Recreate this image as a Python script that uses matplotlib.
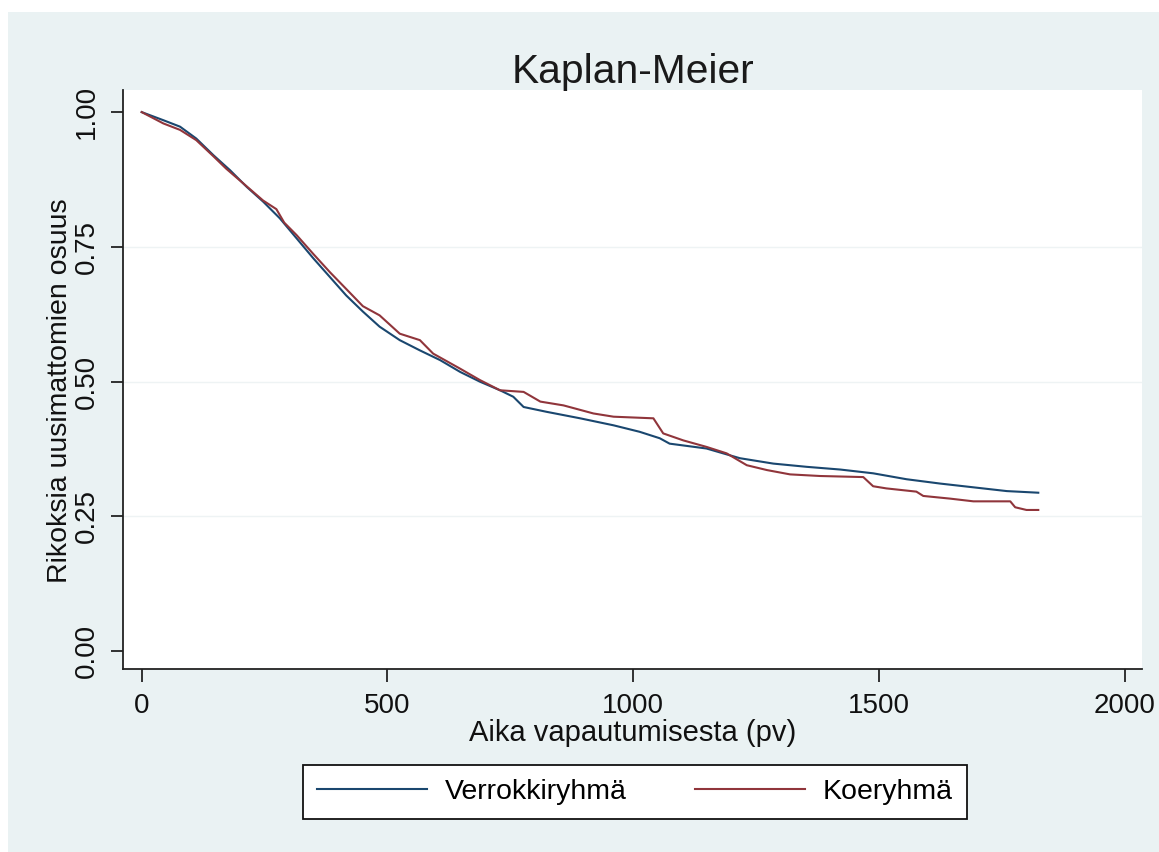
import matplotlib.pyplot as plt
from matplotlib.patches import Rectangle

# ---- data ----
verrokki_days = [0, 44, 78, 111, 146, 180, 214, 247, 281, 315, 349, 383, 416, 450, 484,
                 525, 566, 607, 648, 688, 729, 756, 777, 824, 892, 960, 1013, 1054, 1074,
                 1149, 1217, 1285, 1353, 1421, 1488, 1556, 1624, 1692, 1760, 1824]
verrokki_surv = [1.000, 0.985, 0.973, 0.951, 0.920, 0.892, 0.861, 0.834, 0.803, 0.766, 0.729,
                 0.694, 0.660, 0.630, 0.602, 0.577, 0.558, 0.540, 0.518, 0.500, 0.484, 0.472,
                 0.453, 0.444, 0.432, 0.419, 0.407, 0.395, 0.385, 0.376, 0.358, 0.348, 0.342,
                 0.337, 0.330, 0.319, 0.311, 0.304, 0.297, 0.294]

koe_days = [0, 44, 78, 111, 146, 172, 214, 247, 274, 290, 315, 349, 383, 416, 450, 484,
            525, 566, 593, 648, 688, 729, 777, 811, 858, 919, 960, 1041, 1061, 1102, 1149,
            1190, 1231, 1272, 1319, 1380, 1468, 1488, 1515, 1576, 1590, 1645, 1692, 1767,
            1777, 1800, 1824]
koe_surv = [1.000, 0.979, 0.967, 0.948, 0.918, 0.895, 0.862, 0.836, 0.820, 0.795, 0.772,
            0.737, 0.703, 0.672, 0.640, 0.623, 0.589, 0.577, 0.552, 0.524, 0.503, 0.484,
            0.481, 0.463, 0.456, 0.441, 0.435, 0.432, 0.404, 0.391, 0.379, 0.367, 0.345,
            0.336, 0.328, 0.325, 0.323, 0.306, 0.302, 0.296, 0.288, 0.283, 0.278, 0.278,
            0.267, 0.262, 0.262]

x_ticks = [0, 500, 1000, 1500, 2000]
y_ticks = [0.00, 0.25, 0.50, 0.75, 1.00]
y_ticklabels = ['0.00', '0.25', '0.50', '0.75', '1.00']

navy = '#1a476f'
maroon = '#90353b'
bg = '#eaf2f3'

plt.rcParams['font.family'] = ['Liberation Sans', 'DejaVu Sans']

fig = plt.figure(figsize=(11.59, 8.52), dpi=100, facecolor='white')
# Stata style graph region (white strip left and top like the screenshot)
fig.add_artist(Rectangle((8 / 1159, 0), 1, 1 - 12 / 852, transform=fig.transFigure,
                         facecolor=bg, edgecolor='none', zorder=0))

ax = fig.add_axes([123 / 1159, 1 - 669 / 852, (1142 - 123) / 1159, (669 - 90) / 852])
ax.set_facecolor('white')

for y in [0.25, 0.50, 0.75]:
    ax.axhline(y, color='#eef3f4', linewidth=1.0, zorder=1)

ax.plot(verrokki_days, verrokki_surv, color=navy, linewidth=1.5,
        label='Verrokkiryhmä', zorder=3)
ax.plot(koe_days, koe_surv, color=maroon, linewidth=1.5,
        label='Koeryhmä', zorder=3)

ax.set_xlim(-38, 2035)
ax.set_ylim(-0.033, 1.041)
ax.set_xticks(x_ticks)
ax.set_yticks(y_ticks)
ax.set_yticklabels(y_ticklabels)

for side in ['top', 'right']:
    ax.spines[side].set_visible(False)
for side in ['left', 'bottom']:
    ax.spines[side].set_color('#222222')
    ax.spines[side].set_linewidth(1.3)

ax.tick_params(axis='both', direction='out', length=9, width=1.3, color='#222222',
               labelsize=20, pad=8, labelcolor='#111111')
ax.tick_params(axis='y', labelrotation=90)
for lab in ax.get_yticklabels():
    lab.set_verticalalignment('center')

fig.text(633 / 1159, 1 - 72 / 852, 'Kaplan-Meier', ha='center', va='center', fontsize=29.3,
         color='#1a1a1a')
fig.text(633 / 1159, 1 - 733 / 852, 'Aika vapautumisesta (pv)', ha='center', va='center',
         fontsize=21, color='#111111')
fig.text(60 / 1159, 1 - 391 / 852, 'Rikoksia uusimattomien osuus', ha='center', va='center',
         rotation=90, fontsize=20.5, color='#111111')

leg = fig.legend(loc='center', bbox_to_anchor=(635 / 1159, 1 - 792 / 852), ncol=2,
                 fontsize=20.5, frameon=True, fancybox=False, handlelength=3.85,
                 handletextpad=0.63, columnspacing=2.4, borderpad=0.5)
leg.get_frame().set_edgecolor('#111111')
leg.get_frame().set_linewidth(1.3)
leg.get_frame().set_facecolor('white')
leg.get_frame().set_alpha(1)
for line in leg.get_lines():
    line.set_linewidth(1.5)

fig.savefig('out.png', dpi=100, facecolor=fig.get_facecolor())
